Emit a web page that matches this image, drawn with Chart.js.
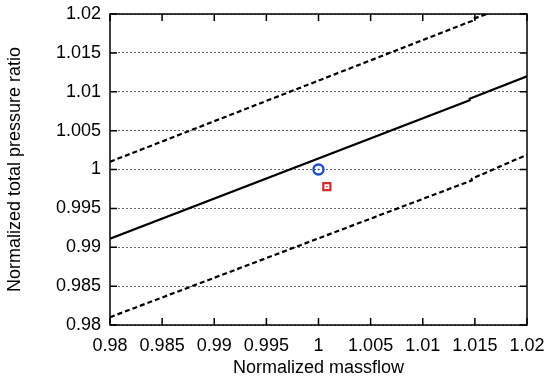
<!DOCTYPE html>
<html>
<head>
<meta charset="utf-8">
<script src="https://cdn.jsdelivr.net/npm/chart.js@4"></script>
<style>
  html, body { margin: 0; padding: 0; background: #fff; }
  #wrap { width: 550px; height: 383px; }
</style>
</head>
<body>
<div id="wrap"><canvas id="chart"></canvas></div>
<script>
// ---------- DATA ----------
const xTicks = [0.98, 0.985, 0.99, 0.995, 1, 1.005, 1.01, 1.015, 1.02];
const yTicks = [0.98, 0.985, 0.99, 0.995, 1, 1.005, 1.01, 1.015, 1.02];

// solid line (nominal)
const nominalX = [0.98, 1.0145, 1.0145, 1.02];
const nominalY = [0.9911, 1.0089, 1.0091, 1.0120];

// dashed bounds
const upperX = [0.98, 1.0147, 1.0147, 1.0161];
const upperY = [1.0010, 1.0191, 1.0193, 1.0200];
const lowerX = [0.98, 1.0147, 1.0147, 1.02];
const lowerY = [0.9810, 0.9986, 0.9988, 1.0019];

// operating points
const circlePoint = { x: 1.0, y: 1.0 };
const squarePoint = { x: 1.0008, y: 0.9978 };

const toXY = (xs, ys) => xs.map((x, i) => ({ x: x, y: ys[i] }));

const FONT = "'Liberation Sans', Arial, Helvetica, sans-serif";

// frame + inward ticks, like gnuplot
const framePlugin = {
    id: "frame",
    afterDraw(chart) {
        const { ctx, chartArea: a, scales } = chart;
        ctx.save();
        ctx.strokeStyle = "#000";
        ctx.lineWidth = 1.5;
        ctx.beginPath();
        xTicks.forEach(v => {
            const px = scales.x.getPixelForValue(v);
            ctx.moveTo(px, a.bottom); ctx.lineTo(px, a.bottom - 7);
            ctx.moveTo(px, a.top); ctx.lineTo(px, a.top + 7);
        });
        yTicks.forEach(v => {
            const py = scales.y.getPixelForValue(v);
            ctx.moveTo(a.left, py); ctx.lineTo(a.left + 7, py);
            ctx.moveTo(a.right, py); ctx.lineTo(a.right - 7, py);
        });
        ctx.stroke();
        ctx.strokeRect(a.left, a.top, a.right - a.left, a.bottom - a.top);
        ctx.restore();
    }
};

const ctx = document.getElementById("chart");

new Chart(ctx, {
    type: "scatter",
    data: {
        datasets: [
            {
                label: "nominal",
                data: toXY(nominalX, nominalY),
                showLine: true,
                borderColor: "#000",
                borderWidth: 2.2,
                pointRadius: 0,
                tension: 0
            },
            {
                label: "upper",
                data: toXY(upperX, upperY),
                showLine: true,
                borderColor: "#000",
                borderWidth: 2.2,
                borderDash: [5, 3],
                pointRadius: 0,
                tension: 0
            },
            {
                label: "lower",
                data: toXY(lowerX, lowerY),
                showLine: true,
                borderColor: "#000",
                borderWidth: 2.2,
                borderDash: [5, 3],
                pointRadius: 0,
                tension: 0
            },
            {
                label: "circle",
                data: [circlePoint],
                pointStyle: "circle",
                pointRadius: 5,
                borderColor: "#1f4fc8",
                backgroundColor: "rgba(0,0,0,0)",
                borderWidth: 2.4
            },
            {
                label: "square",
                data: [squarePoint],
                pointStyle: "rect",
                pointRadius: 5,
                borderColor: "#d42a2a",
                backgroundColor: "rgba(0,0,0,0)",
                borderWidth: 2.2
            },
            {
                label: "centers",
                data: [circlePoint, squarePoint],
                pointStyle: "rect",
                pointRadius: 1,
                borderWidth: 0,
                backgroundColor: ["#1f4fc8", "#d42a2a"]
            }
        ]
    },
    options: {
        responsive: true,
        maintainAspectRatio: false,
        animation: false,
        layout: {
            padding: { left: 0, right: 23, top: 14, bottom: 0 }
        },
        plugins: {
            legend: { display: false },
            tooltip: { enabled: false }
        },
        scales: {
            x: {
                type: "linear",
                min: 0.98,
                max: 1.02,
                afterBuildTicks: s => { s.ticks = xTicks.map(v => ({ value: v })); },
                afterFit: s => {
                    s.height = 58;
                    // fixed margins instead of label overflow padding
                    s.paddingLeft = 0;
                    s.paddingRight = 0;
                },
                ticks: {
                    padding: 10,
                    color: "#000",
                    font: { family: FONT, size: 18 },
                    callback: v => Number(v.toFixed(3)).toString()
                },
                grid: { display: false, drawTicks: false },
                border: { display: false },
                title: {
                    display: true,
                    text: "Normalized massflow",
                    color: "#000",
                    font: { family: FONT, size: 18 },
                    padding: { top: 0, bottom: 4 }
                }
            },
            y: {
                type: "linear",
                min: 0.98,
                max: 1.02,
                afterBuildTicks: s => { s.ticks = yTicks.map(v => ({ value: v })); },
                afterFit: s => {
                    s.width = 110;
                    s.paddingTop = 0;
                    s.paddingBottom = 0;
                },
                ticks: {
                    padding: 9,
                    color: "#000",
                    font: { family: FONT, size: 18 },
                    callback: v => Number(v.toFixed(3)).toString()
                },
                grid: {
                    drawTicks: false,
                    color: "#666",
                    lineWidth: 1
                },
                border: { display: false, dash: [2, 2] },
                title: {
                    display: true,
                    text: "Normalized total pressure ratio",
                    color: "#000",
                    font: { family: FONT, size: 18 },
                    padding: { top: 4, bottom: 0 }
                }
            }
        }
    },
    plugins: [framePlugin]
});
</script>
</body>
</html>
